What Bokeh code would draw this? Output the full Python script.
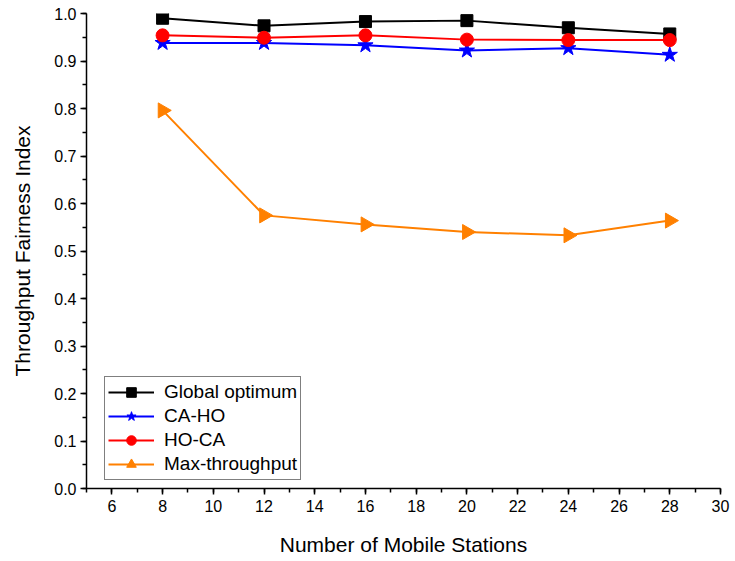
import math
from bokeh.plotting import figure
from bokeh.models import Range1d, Legend, LegendItem, FixedTicker, NumeralTickFormatter
from bokeh.embed import file_html
from bokeh.resources import INLINE

# Number of mobile stations
stations = [8, 12, 16, 20, 24, 28]

# Throughput fairness index per scheme
global_optimum = [0.990, 0.974, 0.983, 0.985, 0.970, 0.957]
ca_ho = [0.938, 0.938, 0.933, 0.922, 0.927, 0.913]
ho_ca = [0.954, 0.949, 0.954, 0.945, 0.944, 0.944]
max_throughput = [0.796, 0.575, 0.556, 0.540, 0.533, 0.564]

x_ticks = list(range(6, 31, 2))
y_ticks = [round(0.1 * i, 1) for i in range(11)]

FONT = "Liberation Sans"

p = figure(
    width=735, height=561,
    output_backend="svg", toolbar_location=None,
    x_range=Range1d(5, 30), y_range=Range1d(0, 1.0),
    min_border_left=86, min_border_right=15,
    min_border_top=13, min_border_bottom=73,
)
p.outline_line_color = None
p.xgrid.visible = False
p.ygrid.visible = False
p.background_fill_color = "white"
p.border_fill_color = "white"

p.xaxis.ticker = FixedTicker(ticks=x_ticks, minor_ticks=list(range(5, 31)))
p.yaxis.ticker = FixedTicker(ticks=y_ticks, minor_ticks=[round(0.05 * i, 2) for i in range(21)])
p.yaxis.formatter = NumeralTickFormatter(format="0.0")

for ax in (p.xaxis, p.yaxis):
    ax.axis_line_color = "black"
    ax.axis_line_width = 1.5
    ax.major_tick_line_color = "black"
    ax.major_tick_line_width = 1.5
    ax.minor_tick_line_color = "black"
    ax.minor_tick_line_width = 1.5
    ax.major_tick_in = 0
    ax.major_tick_out = 6
    ax.minor_tick_in = 0
    ax.minor_tick_out = 4
    ax.major_label_text_font = FONT
    ax.major_label_text_font_size = "16px"
    ax.major_label_text_color = "black"
    ax.axis_label_text_font = FONT
    ax.axis_label_text_font_size = "21px"
    ax.axis_label_text_font_style = "normal"
    ax.axis_label_text_color = "black"

p.xaxis.axis_label = "Number of Mobile Stations"
p.yaxis.axis_label = "Throughput Fairness Index"
p.xaxis.major_label_standoff = 5
p.yaxis.major_label_standoff = 4
p.xaxis.axis_label_standoff = 18
p.yaxis.axis_label_standoff = 17

series = [
    ("Global optimum", global_optimum, "black", "square", 12, 0),
    ("CA-HO", ca_ho, "blue", "star", 16, 0),
    ("HO-CA", ho_ca, "red", "circle", 13, 0),
    ("Max-throughput", max_throughput, "#ff8000", "triangle", 15, -math.pi / 2),
]

items = []
for label, vals, color, marker, size, angle in series:
    ln = p.line(stations, vals, line_color=color, line_width=2)
    mk = p.scatter(stations, vals, marker=marker, size=size, angle=angle,
                   fill_color=color, line_color=color)
    items.append(LegendItem(label=label, renderers=[ln, mk]))

legend = Legend(items=items, location=(18, 8))
legend.label_text_font = FONT
legend.label_text_font_size = "19px"
legend.label_text_color = "black"
legend.border_line_color = "black"
legend.border_line_width = 1
legend.background_fill_alpha = 1
legend.glyph_width = 46
legend.glyph_height = 24
legend.spacing = 0
legend.padding = 3
legend.margin = 0
legend.label_standoff = 10
p.add_layout(legend)

open("out.html", "w").write(file_html(p, INLINE))
